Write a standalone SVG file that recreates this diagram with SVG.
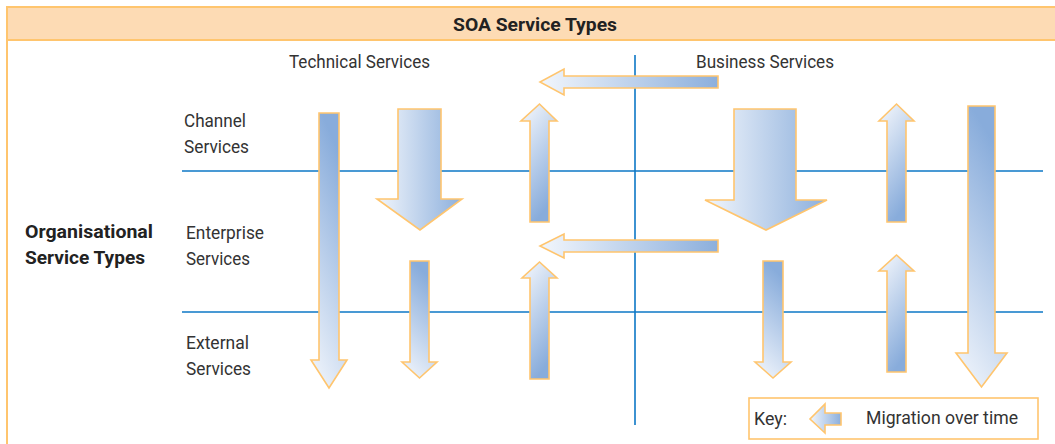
<svg xmlns="http://www.w3.org/2000/svg" width="1055" height="444" viewBox="0 0 1055 444">
<style>
.arr{stroke:#FFC56E;stroke-width:1.6;stroke-linejoin:miter}
.grid{stroke:#0C77C6;stroke-width:1.6}
.lbl{font-family:Roboto,"Liberation Sans",sans-serif;font-size:19px;fill:#333}
.bold{font-family:Roboto,"Liberation Sans",sans-serif;font-size:19px;font-weight:bold;fill:#222}
</style>
<defs>
<linearGradient id="gDown" x1="0.3" y1="0" x2="0" y2="1"><stop offset="0" stop-color="#88ACDB"/><stop offset="1" stop-color="#F5F8FD"/></linearGradient>
<linearGradient id="gUp" x1="0" y1="0" x2="0.4" y2="1"><stop offset="0" stop-color="#F7F9FD"/><stop offset="1" stop-color="#88ACDB"/></linearGradient>
<linearGradient id="gH" x1="0" y1="0" x2="1" y2="0"><stop offset="0" stop-color="#F2F6FC"/><stop offset="1" stop-color="#8CAFDC"/></linearGradient>
</defs>
<rect x="0" y="0" width="1055" height="444" fill="#fff"/>
<g id="frame">
<line x1="7" y1="40" x2="7" y2="444" stroke="#FFC56E" stroke-width="2"/>
<rect id="title-bar" x="7" y="7" width="1060" height="33" fill="#FDDBB4" stroke="#FFC56E" stroke-width="2"/>
<text class="bold" x="535" y="31" text-anchor="middle" textLength="164" lengthAdjust="spacingAndGlyphs">SOA Service Types</text>
</g>
<g id="grid">
<line class="grid" x1="635" y1="55" x2="635" y2="425"/>
<line class="grid" x1="182" y1="171" x2="1043" y2="171"/>
<line class="grid" x1="182" y1="312" x2="1043" y2="312"/>
</g>
<g id="labels">
<text class="lbl" x="289" y="68" textLength="141" lengthAdjust="spacingAndGlyphs">Technical Services</text>
<text class="lbl" x="696" y="68" textLength="138" lengthAdjust="spacingAndGlyphs">Business Services</text>
<text class="lbl" x="184" y="127" textLength="62" lengthAdjust="spacingAndGlyphs">Channel</text>
<text class="lbl" x="184" y="153" textLength="65" lengthAdjust="spacingAndGlyphs">Services</text>
<text class="lbl" x="186" y="239" textLength="78" lengthAdjust="spacingAndGlyphs">Enterprise</text>
<text class="lbl" x="186" y="265" textLength="64" lengthAdjust="spacingAndGlyphs">Services</text>
<text class="lbl" x="186" y="349" textLength="63" lengthAdjust="spacingAndGlyphs">External</text>
<text class="lbl" x="186" y="375" textLength="65" lengthAdjust="spacingAndGlyphs">Services</text>
<text class="bold" x="25" y="238" textLength="128" lengthAdjust="spacingAndGlyphs">Organisational</text>
<text class="bold" x="25" y="264" textLength="120" lengthAdjust="spacingAndGlyphs">Service Types</text>
</g>
<g id="connectors">
<polygon class="arr" fill="url(#gDown)" points="319,113 339,113 339,360 347,360 329,388 311,360 319,360"/>
<polygon class="arr" fill="url(#gH)" points="398,109 441,109 441,199 462,199 420,230 377,199 398,199"/>
<polygon class="arr" fill="url(#gUp)" points="530,222 549,222 549,121 557,121 539.5,104 521,121 530,121"/>
<polygon class="arr" fill="url(#gH)" points="718,76 718,88 564,88 564,95 540,82 564,69 564,76"/>
<polygon class="arr" fill="url(#gH)" points="718,240 718,252 564,252 564,258 540,246 564,234 564,240"/>
<polygon class="arr" fill="url(#gH)" points="734,109 796,109 796,200 827,200 766,230 705,200 734,200"/>
<polygon class="arr" fill="url(#gDown)" points="763,261 783,261 783,362 791,362 773,378 755,362 763,362"/>
<polygon class="arr" fill="url(#gUp)" points="887,222 906,222 906,121 914,121 896.5,104 879,121 887,121"/>
<polygon class="arr" fill="url(#gUp)" points="887,372 906,372 906,271 914,271 896.5,255 879,271 887,271"/>
<polygon class="arr" fill="url(#gDown)" points="968,106 995,106 995,353 1007,353 981.5,387 956,353 968,353"/>
<polygon class="arr" fill="url(#gDown)" points="410,261 429,261 429,362 437,362 419.5,378 402,362 410,362"/>
<polygon class="arr" fill="url(#gUp)" points="530,379 549,379 549,278 557,278 539.5,262 522,278 530,278"/>
</g>
<g id="key">
<rect x="749" y="398" width="289" height="41" fill="#fff" stroke="#FFC56E" stroke-width="1.6"/>
<text class="lbl" x="754" y="425" textLength="33" lengthAdjust="spacingAndGlyphs">Key:</text>
<polygon class="arr" fill="url(#gH)" points="841,413 841,425 825,425 825,433 810,419 825,404 825,413"/>
<text class="lbl" x="866" y="424" textLength="152" lengthAdjust="spacingAndGlyphs">Migration over time</text>
</g>
</svg>
